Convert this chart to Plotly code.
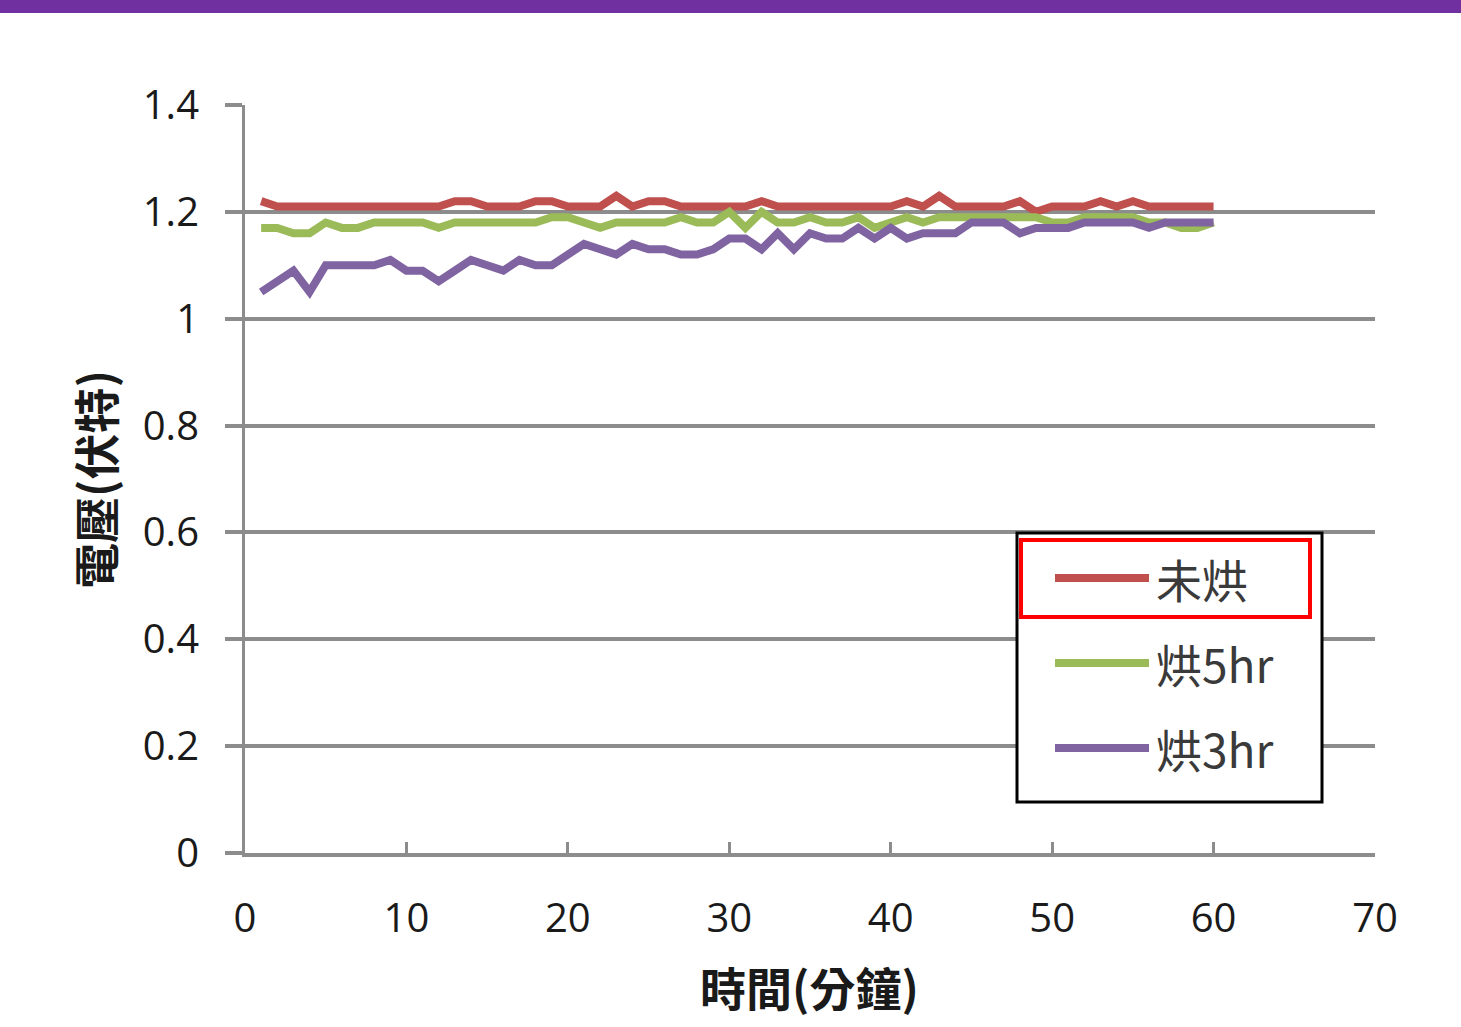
import plotly.graph_objects as go

# Time in minutes
minutes = list(range(1, 61))

# Voltage readings (V)
unbaked = [1.22, 1.21, 1.21, 1.21, 1.21, 1.21, 1.21, 1.21, 1.21, 1.21,
           1.21, 1.21, 1.22, 1.22, 1.21, 1.21, 1.21, 1.22, 1.22, 1.21,
           1.21, 1.21, 1.23, 1.21, 1.22, 1.22, 1.21, 1.21, 1.21, 1.21,
           1.21, 1.22, 1.21, 1.21, 1.21, 1.21, 1.21, 1.21, 1.21, 1.21,
           1.22, 1.21, 1.23, 1.21, 1.21, 1.21, 1.21, 1.22, 1.20, 1.21,
           1.21, 1.21, 1.22, 1.21, 1.22, 1.21, 1.21, 1.21, 1.21, 1.21]
baked_5hr = [1.17, 1.17, 1.16, 1.16, 1.18, 1.17, 1.17, 1.18, 1.18, 1.18,
             1.18, 1.17, 1.18, 1.18, 1.18, 1.18, 1.18, 1.18, 1.19, 1.19,
             1.18, 1.17, 1.18, 1.18, 1.18, 1.18, 1.19, 1.18, 1.18, 1.20,
             1.17, 1.20, 1.18, 1.18, 1.19, 1.18, 1.18, 1.19, 1.17, 1.18,
             1.19, 1.18, 1.19, 1.19, 1.19, 1.19, 1.19, 1.19, 1.19, 1.18,
             1.18, 1.19, 1.19, 1.19, 1.19, 1.18, 1.18, 1.17, 1.17, 1.18]
baked_3hr = [1.05, 1.07, 1.09, 1.05, 1.10, 1.10, 1.10, 1.10, 1.11, 1.09,
             1.09, 1.07, 1.09, 1.11, 1.10, 1.09, 1.11, 1.10, 1.10, 1.12,
             1.14, 1.13, 1.12, 1.14, 1.13, 1.13, 1.12, 1.12, 1.13, 1.15,
             1.15, 1.13, 1.16, 1.13, 1.16, 1.15, 1.15, 1.17, 1.15, 1.17,
             1.15, 1.16, 1.16, 1.16, 1.18, 1.18, 1.18, 1.16, 1.17, 1.17,
             1.17, 1.18, 1.18, 1.18, 1.18, 1.17, 1.18, 1.18, 1.18, 1.18]

series_names = ["未烘", "烘5hr", "烘3hr"]
series_colors = ["#C0504D", "#9BBB59", "#8064A2"]
series_values = [unbaked, baked_5hr, baked_3hr]

x_ticks = [0, 10, 20, 30, 40, 50, 60, 70]
y_ticks = [0, 0.2, 0.4, 0.6, 0.8, 1, 1.2, 1.4]
y_tick_text = ["0", "0.2", "0.4", "0.6", "0.8", "1", "1.2", "1.4"]

W, H = 1461, 1027
ML, MR, MT, MB = 245, 86, 105, 174
PW, PH = W - ML - MR, H - MT - MB

GRID = "#8C8C8C"
TEXT = "#1A1A1A"
CJK = "Noto Sans CJK TC"


def px_x(px):
    return (px - ML) / PW


def px_y(py):
    return (H - MB - py) / PH


fig = go.Figure()

for name, color, vals in zip(series_names, series_colors, series_values):
    fig.add_trace(go.Scatter(
        x=minutes, y=vals, mode="lines", name=name,
        line=dict(color=color, width=8),
        showlegend=False,
    ))

shapes = [
    # purple banner across the top of the page
    dict(type="rect", xref="paper", yref="paper",
         xsizemode="pixel", ysizemode="pixel",
         xanchor=0, yanchor=1,
         x0=-ML, x1=W - ML, y0=MT - 13, y1=MT,
         fillcolor="#7030A0", line=dict(width=0), layer="above"),
]

# legend box
shapes.append(dict(type="rect", xref="paper", yref="paper",
                   x0=px_x(1017), x1=px_x(1322), y0=px_y(802), y1=px_y(533),
                   fillcolor="white", line=dict(color="black", width=3),
                   layer="above"))
# highlight around the first legend entry
shapes.append(dict(type="rect", xref="paper", yref="paper",
                   x0=px_x(1021), x1=px_x(1310), y0=px_y(617), y1=px_y(540),
                   line=dict(color="#FF0000", width=4), layer="above"))

annotations = []
for i, (name, color) in enumerate(zip(series_names, series_colors)):
    ly = 578 + 85 * i
    shapes.append(dict(type="line", xref="paper", yref="paper",
                       x0=px_x(1055), x1=px_x(1149), y0=px_y(ly), y1=px_y(ly),
                       line=dict(color=color, width=8), layer="above"))
    annotations.append(dict(xref="paper", yref="paper",
                            x=px_x(1154), y=px_y(ly), xanchor="left",
                            yanchor="middle", showarrow=False, text=name,
                            font=dict(family=CJK, size=46, color="#3A3A3A")))

# axis titles
annotations.append(dict(xref="paper", yref="paper", x=px_x(809), y=px_y(986),
                        xanchor="center", yanchor="middle", showarrow=False,
                        text="<b>時間(分鐘)</b>",
                        font=dict(family=CJK, size=46, color=TEXT)))
annotations.append(dict(xref="paper", yref="paper", x=px_x(94), y=px_y(480),
                        xanchor="center", yanchor="middle", showarrow=False,
                        textangle=-90, text="<b>電壓(伏特)</b>",
                        font=dict(family=CJK, size=46, color=TEXT)))

fig.update_layout(
    width=W, height=H,
    margin=dict(l=ML, r=MR, t=MT, b=MB, pad=0),
    paper_bgcolor="white", plot_bgcolor="white",
    shapes=shapes, annotations=annotations,
    xaxis=dict(
        range=[0, 70], tickvals=x_ticks,
        showgrid=False, zeroline=False,
        showline=True, linecolor=GRID, linewidth=4,
        ticks="inside", ticklen=11, tickwidth=3, tickcolor=GRID,
        ticklabelstandoff=27,
        tickfont=dict(family="Open Sans", size=40, color=TEXT),
    ),
    yaxis=dict(
        range=[0, 1.4], tickvals=y_ticks, ticktext=y_tick_text,
        showgrid=True, gridcolor=GRID, gridwidth=4,
        zeroline=False,
        showline=True, linecolor=GRID, linewidth=3,
        ticks="outside", ticklen=17, tickwidth=4, tickcolor=GRID,
        ticklabelstandoff=18,
        tickfont=dict(family="Open Sans", size=40, color=TEXT),
    ),
)

fig.write_html("out.html")
